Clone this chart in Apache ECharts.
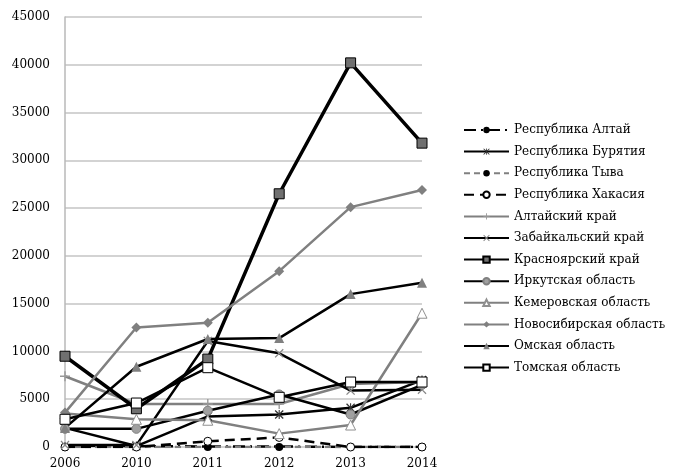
<!DOCTYPE html>
<html><head><meta charset="utf-8">
<script src="https://cdn.jsdelivr.net/npm/echarts@6/dist/echarts.min.js"></script>
<style>html,body{margin:0;padding:0;background:#fff}#c{width:679px;height:472px}</style>
</head><body><div id="c"></div>
<script>
var years = ['2006','2010','2011','2012','2013','2014'];
var names = ['Республика Алтай','Республика Бурятия','Республика Тыва','Республика Хакасия','Алтайский край','Забайкальский край','Красноярский край','Иркутская область','Кемеровская область','Новосибирская область','Омская область','Томская область'];
var respAltai   = [150, 100, 50, 50, 0, 0];
var buryatia    = [2000, 100, 3200, 3400, 4100, 7000];
var tyva        = [0, 0, 0, 0, 0, 0];
var khakassia   = [0, 0, 600, 1000, 0, 0];
var altaiKrai   = [7400, 4500, 4500, 4500, 6600, 6800];
var zabaikal    = [200, 200, 11100, 9800, 5900, 6000];
var krasnoyarsk = [9500, 4000, 9200, 26500, 40200, 31800];
var irkutsk     = [1900, 1900, 3800, 5500, 3400, 6500];
var kemerovo    = [3500, 2900, 2800, 1400, 2300, 14000];
var novosib     = [3600, 12500, 13000, 18400, 25100, 26900];
var omsk        = [2000, 8400, 11300, 11400, 16000, 17200];
var tomsk       = [2900, 4600, 8300, 5200, 6800, 6800];
var yTicks = ['0','5000','10000','15000','20000','25000','30000','35000','40000','45000'];

var PLUS = 'path://M4.3,0H5.7V4.3H10V5.7H5.7V10H4.3V5.7H0V4.3H4.3Z';
var XS = 'path://M0,1L1,0L5,4L9,0L10,1L6,5L10,9L9,10L5,6L1,10L0,9L4,5Z';
var AST = 'path://M0,1L1,0L5,4L9,0L10,1L6,5L10,9L9,10L5,6L1,10L0,9L4,5Z M4.4,0H5.6V10H4.4Z';
var BLACK = '#000', GRAY = '#808080';
var FONT = 'DejaVu Serif';

function ser(name, data, color, width, type, symbol, size, fill, border) {
  return {
    name: name, type: 'line', data: data, symbol: symbol, symbolSize: size,
    lineStyle: {color: color, width: width, type: type},
    itemStyle: {color: fill, borderColor: border, borderWidth: border ? 1 : 0},
    emphasis: {disabled: true}, animation: false
  };
}

var series = [
  ser(names[0], respAltai, BLACK, 2.5, [12,5,2,5], 'none', 0, BLACK, null),
  ser(names[1], buryatia, BLACK, 2.5, 'solid', AST, 9, '#333', null),
  ser(names[2], tyva, GRAY, 2.5, [6,4], 'circle', 8, BLACK, null),
  ser(names[3], khakassia, BLACK, 2.5, [10,6], 'circle', 8, '#fff', BLACK),
  ser(names[4], altaiKrai, GRAY, 2.5, 'solid', PLUS, 10, '#999', null),
  ser(names[5], zabaikal, BLACK, 2.5, 'solid', XS, 9, '#888', null),
  ser(names[6], krasnoyarsk, BLACK, 3.5, 'solid', 'rect', 10, '#707070', BLACK),
  ser(names[7], irkutsk, BLACK, 2.5, 'solid', 'circle', 9, '#a0a0a0', '#808080'),
  ser(names[8], kemerovo, GRAY, 2.5, 'solid', 'triangle', 10, '#fff', '#909090'),
  ser(names[9], novosib, GRAY, 2.5, 'solid', 'diamond', 10, '#808080', null),
  ser(names[10], omsk, BLACK, 2.5, 'solid', 'triangle', 10, '#808080', null),
  ser(names[11], tomsk, BLACK, 2.5, 'solid', 'rect', 10, '#fff', BLACK)
];

var chart = echarts.init(document.getElementById('c'), null, {renderer: 'canvas'});
chart.setOption({
  animation: false,
  backgroundColor: '#fff',
  grid: {left: 65, right: 257, top: 17, bottom: 25, containLabel: false},
  xAxis: {
    type: 'category', data: years, boundaryGap: false,
    axisLine: {show: false}, axisTick: {show: false},
    splitLine: {show: false},
    axisLabel: {color: '#000', fontFamily: FONT, fontSize: 12, margin: 11}
  },
  yAxis: {
    type: 'value', min: 0, max: 45000, interval: 5000,
    axisLine: {show: true, lineStyle: {color: '#b8b8b8', width: 1.5}},
    axisTick: {show: false},
    splitLine: {lineStyle: {color: '#c4c4c4', width: 1.5}},
    axisLabel: {color: '#000', fontFamily: FONT, fontSize: 12, margin: 15,
      formatter: function (v) { return yTicks[Math.round(v / 5000)]; }}
  },
  legend: {
    orient: 'vertical', left: 458, top: 118,
    itemWidth: 45, itemHeight: 8, itemGap: 7.6,
    data: names,
    textStyle: {color: '#000', fontFamily: FONT, fontSize: 12, lineHeight: 14},
    selectedMode: false
  },
  series: series
});
</script></body></html>
